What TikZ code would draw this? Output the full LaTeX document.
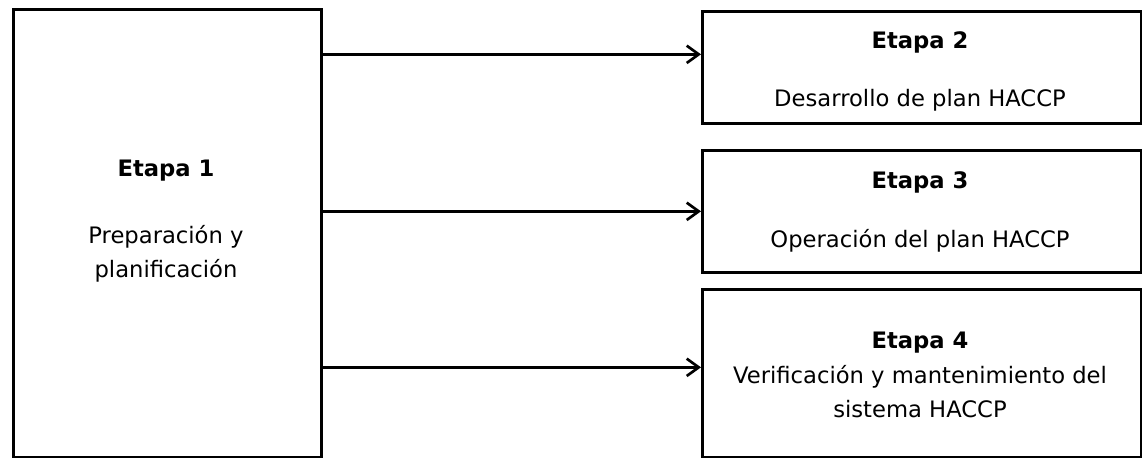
\documentclass[tikz,border=0pt]{standalone}
\usepackage{fontspec}
\setmainfont{DejaVu Sans}
\usepackage{tikz}
\usetikzlibrary{arrows.meta}

\tikzset{
  etapabox/.style={draw, line width=2pt, inner sep=0pt, anchor=north west},
  etapatxt/.style={anchor=base, inner sep=0pt, align=center, font=\fontsize{17}{25.5}\selectfont},
  etapahead/.style={etapatxt, font=\fontsize{17}{25.5}\selectfont\bfseries},
  flecha/.style={line width=2pt, -{Straight Barb[length=9pt,width=13pt,line width=2pt]}}
}

\begin{document}
\begin{tikzpicture}[x=0.75pt,y=0.75pt,yscale=-1,xscale=1]
        \useasboundingbox (0,0) rectangle (1142,457);
        % cajas
        \node [etapabox, minimum width=231pt, minimum height=336pt] (b1) at (12,8) {};
        \node [etapabox, minimum width=329.25pt, minimum height=84pt] (b2) at (701,10) {};
        \node [etapabox, minimum width=329.25pt, minimum height=91.5pt] (b3) at (701,149) {};
        \node [etapabox, minimum width=329.25pt, minimum height=126pt] (b4) at (701,288) {};

        % flechas
        \draw [flecha] ([yshift=-9.75pt]b2.west -| b1.east) -- ([yshift=-9.75pt]b2.west);
        \draw [flecha] (b3.west -| b1.east) -- (b3.west);
        \draw [flecha] ([yshift=-4.5pt]b4.west -| b1.east) -- ([yshift=-4.5pt]b4.west);

        % textos
        \node [etapahead] (h1) at (166,176) {Etapa 1};
        \node [etapatxt] (t1) at (166,277) {Preparación y\\planificación};
        \node [etapahead] (h2) at (920,48) {Etapa 2};
        \node [etapatxt] (t2) at (920,106) {Desarrollo de plan HACCP};
        \node [etapahead] (h3) at (920,188) {Etapa 3};
        \node [etapatxt] (t3) at (920,247) {Operación del plan HACCP};
        \node [etapahead] (h4) at (920,348) {Etapa 4};
        \node [etapatxt] (t4) at (920,417) {Verificación y mantenimiento del\\sistema HACCP};
    \end{tikzpicture}
\end{document}
